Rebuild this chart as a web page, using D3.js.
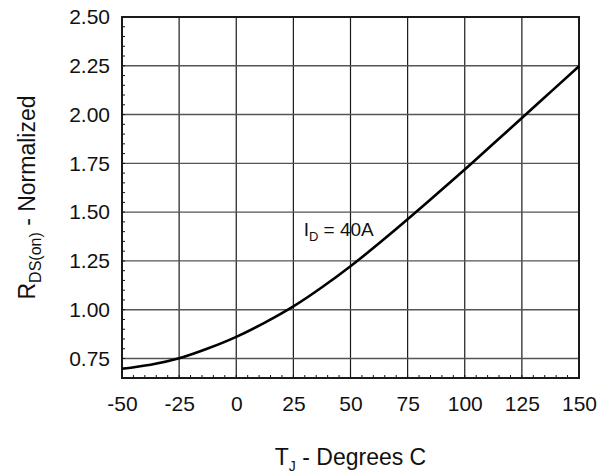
<!DOCTYPE html>
<html>
<head>
<meta charset="utf-8">
<script src="https://cdn.jsdelivr.net/npm/d3@7"></script>
<style>
  body { margin: 0; background: #fff; }
  text { font-family: "Liberation Sans", Arial, sans-serif; fill: #111; }
</style>
</head>
<body>
<svg id="chart" width="615" height="474"></svg>
<script>
// junction temperature (deg C) and normalized RDS(on)
const temps = [-50, -37.5, -25, -12.5, 0, 12.5, 25, 37.5, 50, 62.5, 75, 87.5, 100, 112.5, 125, 137.5, 150];
const rdsNorm = [0.697, 0.718, 0.751, 0.801, 0.861, 0.934, 1.017, 1.115, 1.223, 1.340, 1.463, 1.590, 1.718, 1.850, 1.982, 2.115, 2.248];

const xTicks = [-50, -25, 0, 25, 50, 75, 100, 125, 150];
const yTicks = [0.75, 1.00, 1.25, 1.50, 1.75, 2.00, 2.25, 2.50];

const margin = { top: 17, right: 36, bottom: 96, left: 122 };
const width = 615 - margin.left - margin.right;
const height = 474 - margin.top - margin.bottom;

const svg = d3.select("#chart");
const g = svg.append("g").attr("transform", "translate(" + margin.left + "," + margin.top + ")");

const x = d3.scaleLinear().domain([-50, 150]).range([0, width]);
const y = d3.scaleLinear().domain([0.65, 2.5]).range([height, 0]);

// grid lines
g.selectAll(".vgrid")
    .data(xTicks)
    .enter()
    .append("line")
    .attr("class", "vgrid")
    .attr("x1", d => x(d)).attr("x2", d => x(d))
    .attr("y1", 0).attr("y2", height)
    .style("stroke", "#1a1a1a")
    .style("stroke-width", 1.2);

g.selectAll(".hgrid")
    .data(yTicks)
    .enter()
    .append("line")
    .attr("class", "hgrid")
    .attr("x1", 0).attr("x2", width)
    .attr("y1", d => y(d)).attr("y2", d => y(d))
    .style("stroke", "#555")
    .style("stroke-width", 1.4);

// minor ticks inside the bottom and left edges
let xMinor = d3.range(-50, 150.1, 5);
let yMinor = d3.range(0.65, 2.501, 0.05);

g.selectAll(".xminor")
    .data(xMinor)
    .enter()
    .append("line")
    .attr("x1", d => x(d)).attr("x2", d => x(d))
    .attr("y1", height).attr("y2", height - 3)
    .style("stroke", "#111")
    .style("stroke-width", 1);

g.selectAll(".yminor")
    .data(yMinor)
    .enter()
    .append("line")
    .attr("x1", 0).attr("x2", 3)
    .attr("y1", d => y(d)).attr("y2", d => y(d))
    .style("stroke", "#111")
    .style("stroke-width", 1);

// frame
g.append("rect")
    .attr("x", 0).attr("y", 0)
    .attr("width", width).attr("height", height)
    .style("fill", "none")
    .style("stroke", "#1a1a1a")
    .style("stroke-width", 2);

// axes (labels only), plain hyphen for negatives like the datasheet
const xAxis = d3.axisBottom(x).tickValues(xTicks).tickSize(0).tickPadding(18).tickFormat(d => String(d));
const yAxis = d3.axisLeft(y).tickValues(yTicks).tickSize(0).tickPadding(12).tickFormat(d => d.toFixed(2));

g.append("g")
    .attr("transform", "translate(0," + height + ")")
    .call(xAxis)
    .call(a => a.select(".domain").remove())
    .selectAll("text")
    .style("font-size", "21px")
    .style("font-family", "Liberation Sans, Arial, sans-serif")
    .attr("fill", "#111");

g.append("g")
    .call(yAxis)
    .call(a => a.select(".domain").remove())
    .selectAll("text")
    .style("font-size", "21px")
    .style("font-family", "Liberation Sans, Arial, sans-serif")
    .attr("fill", "#111");

// curve
const line = d3.line()
    .x((d, i) => x(temps[i]))
    .y(d => y(d))
    .curve(d3.curveNatural);

g.append("path")
    .datum(rdsNorm)
    .attr("d", line)
    .style("fill", "none")
    .style("stroke", "#000")
    .style("stroke-width", 2.6);

// annotation
const note = g.append("text")
    .attr("x", x(29.5))
    .attr("y", 219)
    .style("font-size", "19px");
note.append("tspan").text("I");
note.append("tspan").attr("dy", 5).style("font-size", "13px").text("D");
note.append("tspan").attr("dy", -5).text(" = 40A");

// axis titles
const xt = svg.append("text")
    .attr("x", margin.left + width / 2)
    .attr("y", 465)
    .attr("text-anchor", "middle")
    .style("font-size", "23px");
xt.append("tspan").text("T");
xt.append("tspan").attr("dy", 6).style("font-size", "14px").text("J");
xt.append("tspan").attr("dy", -6).text(" - Degrees C");

const yt = svg.append("text")
    .attr("transform", "translate(35," + (margin.top + height / 2) + ") rotate(-90)")
    .attr("text-anchor", "middle")
    .style("font-size", "23px");
yt.append("tspan").text("R");
yt.append("tspan").attr("dy", 6).style("font-size", "16px").text("DS(on)");
yt.append("tspan").attr("dy", -6).text(" - Normalized");
</script>
</body>
</html>
